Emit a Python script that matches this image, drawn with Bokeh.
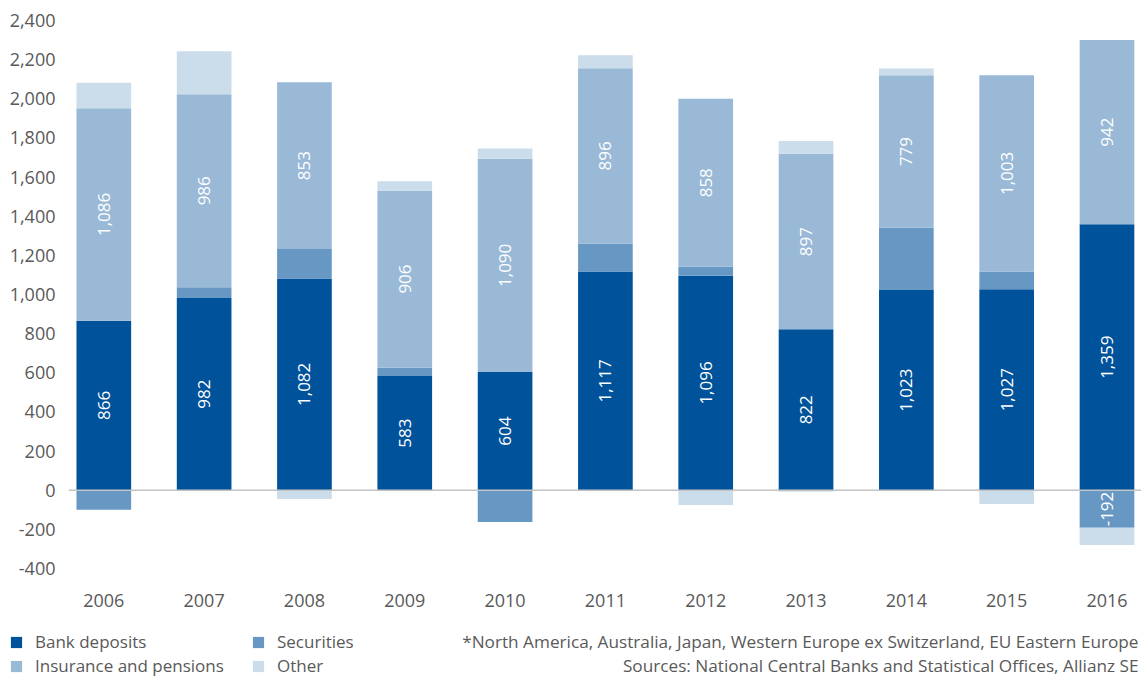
import math
from bokeh.plotting import figure
from bokeh.layouts import column
from bokeh.models import (ColumnDataSource, Range1d, FixedTicker, NumeralTickFormatter,
                          Span, Legend, LegendItem, Label)
from bokeh.core.properties import value
from bokeh.embed import file_html
from bokeh.resources import INLINE

# ---------------- data ----------------
years = ["2006", "2007", "2008", "2009", "2010", "2011", "2012", "2013", "2014", "2015", "2016"]
bank_deposits = [866, 982, 1082, 583, 604, 1117, 1096, 822, 1023, 1027, 1359]
securities = [-100, 55, 150, 43, -162, 143, 46, -5, 318, 90, -192]
insurance_pensions = [1086, 986, 853, 906, 1090, 896, 858, 897, 779, 1003, 942]
other = [130, 220, -45, 47, 52, 66, -75, 65, 35, -70, -88]
series_names = ["Bank deposits", "Securities", "Insurance and pensions", "Other"]
labelled_securities_years = ["2016"]
y_ticks = [-400, -200, 0, 200, 400, 600, 800, 1000, 1200, 1400, 1600, 1800, 2000, 2200, 2400]
footnotes = ["*North America, Australia, Japan, Western Europe ex Switzerland, EU Eastern Europe",
             "Sources: National Central Banks and Statistical Offices, Allianz SE"]

# ---------------- style ----------------
colors = ["#00529B", "#6798C4", "#99B9D7", "#CBDDEB"]
FONT = "Open Sans"
GREY = "#595959"
W = 1141
H_MAIN = 625
H_FOOT = 53

p = figure(width=W, height=H_MAIN,
           x_range=Range1d(-0.352, 10.344), y_range=Range1d(-400, 2400),
           output_backend="svg", toolbar_location=None,
           min_border_left=68, min_border_right=0, min_border_top=20,
           min_border_bottom=H_MAIN - 568)
p.frame_align = False
p.xgrid.visible = False
p.ygrid.visible = False
p.outline_line_color = None

n = len(years)
xs = list(range(n))
pos = [0.0] * n
neg = [0.0] * n
stacks = {}
for name, vals, color in zip(series_names, [bank_deposits, securities, insurance_pensions, other], colors):
    bottoms, tops = [], []
    for i, v in enumerate(vals):
        if v >= 0:
            b = pos[i]; t = b + v; pos[i] = t
        else:
            b = neg[i]; t = b + v; neg[i] = t
        bottoms.append(b); tops.append(t)
    stacks[name] = (bottoms, tops, vals)
    src = ColumnDataSource(dict(x=xs, bottom=bottoms, top=tops))
    p.vbar(x="x", bottom="bottom", top="top", width=0.545, source=src,
           fill_color=color, line_color=None)

# zero line
p.add_layout(Span(location=0, dimension="width", line_color="#C4C4C4", line_width=1.5))

# value labels
lx, ly, lt = [], [], []
for name in ["Bank deposits", "Insurance and pensions", "Securities"]:
    bottoms, tops, vals = stacks[name]
    for i in range(n):
        if name == "Securities" and years[i] not in labelled_securities_years:
            continue
        lx.append(i)
        ly.append((bottoms[i] + tops[i]) / 2)
        lt.append(f"{vals[i]:,}")
p.text(x=lx, y=ly, text=lt, angle=math.pi / 2, text_align="center", text_baseline="middle",
       text_color="white", text_font=value(FONT), text_font_size="17px")

# axes
p.yaxis.ticker = FixedTicker(ticks=y_ticks)
p.yaxis.formatter = NumeralTickFormatter(format="0,0")
p.xaxis.ticker = FixedTicker(ticks=xs)
p.xaxis.major_label_overrides = {i: y for i, y in enumerate(years)}
for ax in (p.xaxis[0], p.yaxis[0]):
    ax.axis_line_color = None
    ax.major_tick_line_color = None
    ax.minor_tick_line_color = None
    ax.major_tick_out = 0
    ax.minor_tick_out = 0
    ax.major_label_text_font = FONT
    ax.major_label_text_font_size = "18px"
    ax.major_label_text_color = GREY
p.yaxis.major_label_standoff = 13
p.xaxis.major_label_standoff = 25

# ---------------- footer: legend + sources ----------------
f = figure(width=W, height=H_FOOT, x_range=Range1d(0, W), y_range=Range1d(0, H_FOOT),
           output_backend="svg", toolbar_location=None,
           x_axis_location=None, y_axis_location=None,
           min_border_left=0, min_border_right=0, min_border_top=0, min_border_bottom=0)
f.frame_align = False
f.xgrid.visible = False
f.ygrid.visible = False
f.outline_line_color = None

# legend-only renderers (zero-height, outside the visible range)
leg_renderers = [f.vbar(x=[-1000], bottom=[0], top=[0], width=1, fill_color=c, line_color=None)
                 for c in colors]

def make_legend(idx, x):
    items = [LegendItem(label=series_names[k], renderers=[leg_renderers[k]]) for k in idx]
    return Legend(items=items, location=(x, 1), orientation="vertical",
                  padding=0, margin=0, spacing=1, glyph_width=14, glyph_height=14,
                  label_standoff=12, label_height=20,
                  label_text_font=FONT, label_text_font_size="17px", label_text_color=GREY,
                  border_line_color=None, background_fill_alpha=0)

f.add_layout(make_legend([0, 2], 9))
f.add_layout(make_legend([1, 3], 251))

for k, txt in enumerate(footnotes):
    f.add_layout(Label(x=1138, y=H_FOOT - 16 - 24 * k, text=txt,
                       text_align="right", text_baseline="middle", text_font=FONT,
                       text_font_size="17.2px", text_color=GREY))

layout = column(p, f, spacing=0)
open("out.html", "w").write(file_html(layout, INLINE))
